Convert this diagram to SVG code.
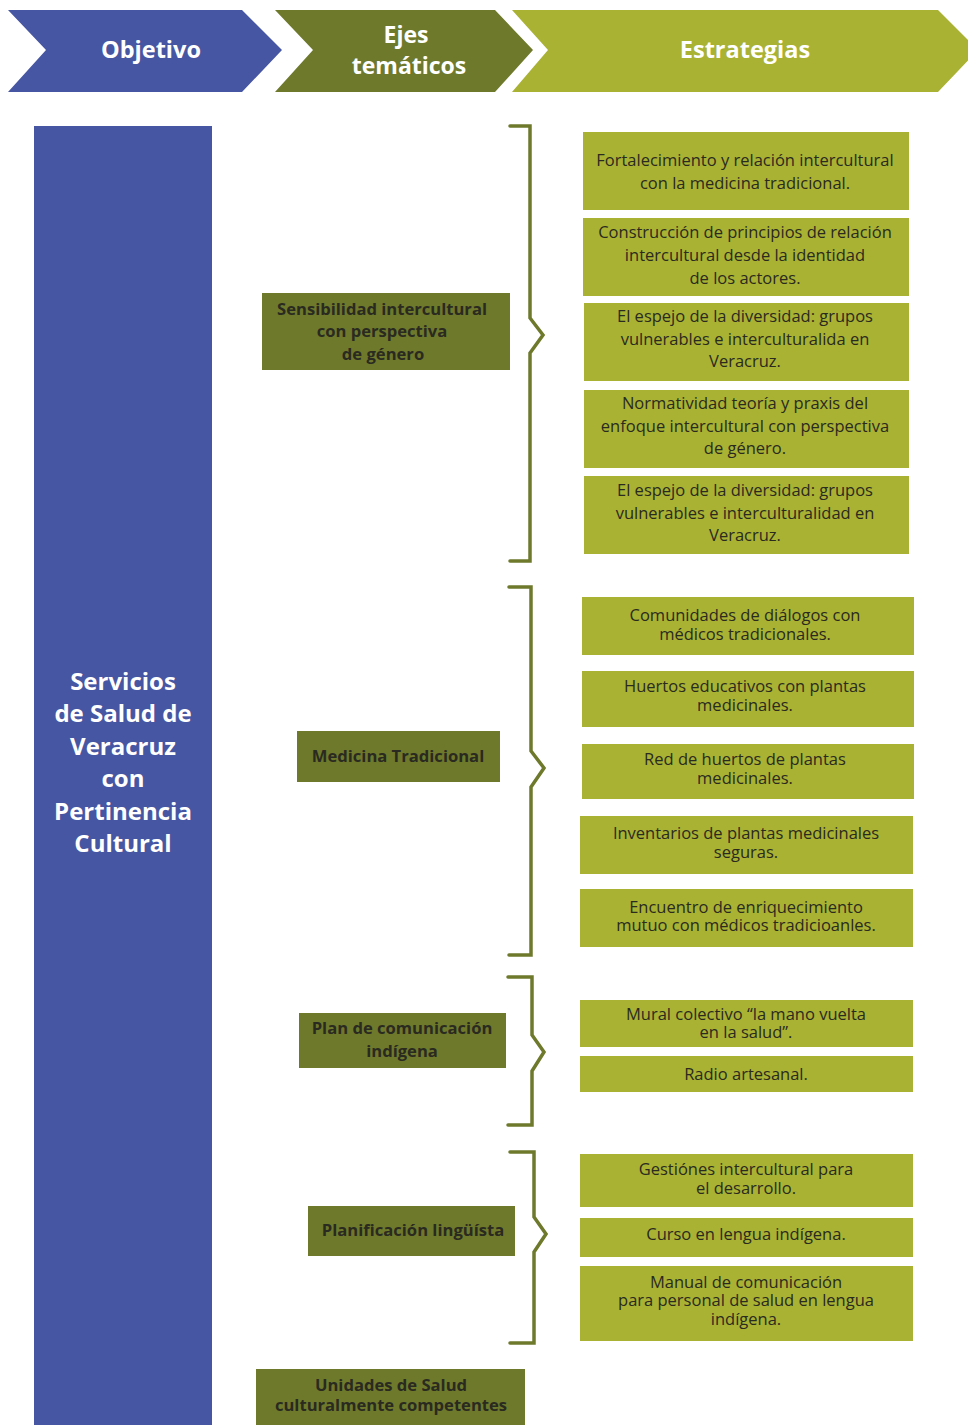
<svg xmlns="http://www.w3.org/2000/svg" width="968" height="1425" viewBox="0 0 968 1425">
<style>
.hdr{font-family:"Open Sans","Liberation Sans",sans-serif;font-weight:bold;fill:#ffffff;text-anchor:middle}
.obj{font-family:"Open Sans","Liberation Sans",sans-serif;font-weight:bold;fill:#ffffff;text-anchor:middle;font-size:24px}
.axis{fill:#6E792C}
.axt{font-family:"Open Sans","Liberation Sans",sans-serif;font-weight:bold;fill:#2a2a20;text-anchor:middle;font-size:16.6px}
.str{fill:#A9B233}
.stt{font-family:"Open Sans","Liberation Sans",sans-serif;fill:#2a2a20;text-anchor:middle;font-size:16.5px}
.brace{fill:none;stroke:#6E792C;stroke-width:3.5;stroke-linecap:round;stroke-linejoin:miter}
</style>
<rect width="968" height="1425" fill="#ffffff"/>
<g id="header">
<g id="h-objetivo"><polygon points="8,10 242,10 282,50 242,92 8,92 46,50" fill="#4656A2"/><text class="hdr" x="151" y="58" font-size="23.5">Objetivo</text></g>
<g id="h-ejes"><polygon points="275,10 495,10 533,50 495,92 275,92 313,50" fill="#6E792C"/><text class="hdr" x="406" y="43" font-size="23">Ejes</text><text class="hdr" x="409" y="74" font-size="23">temáticos</text></g>
<g id="h-estrategias"><polygon points="512,10 938,10 978,50 938,92 512,92 548,50" fill="#A9B233"/><text class="hdr" x="745" y="58" font-size="23.5">Estrategias</text></g>
</g>
<g id="objetivo"><rect x="34" y="126" width="178" height="1299" fill="#4656A2"/>
<text class="obj"><tspan x="123" y="690">Servicios</tspan><tspan x="123" y="722">de Salud de</tspan><tspan x="123" y="755">Veracruz</tspan><tspan x="123" y="787">con</tspan><tspan x="123" y="820">Pertinencia</tspan><tspan x="123" y="852">Cultural</tspan></text></g>
<g id="connectors">
<path class="brace" d="M510,126 H530 V318 L543,335 L530,353 V561 H510"/>
<path class="brace" d="M509,587 H531 V751 L544,768 L531,787 V955 H509"/>
<path class="brace" d="M508,977 H532 V1035 L544,1052 L532,1071 V1125 H508"/>
<path class="brace" d="M510,1152 H534 V1217 L546,1234 L534,1252 V1343 H510"/>
</g>
<g id="eje-sensibilidad"><rect class="axis" x="262" y="293" width="248" height="77"/><text class="axt"><tspan x="382" y="315">Sensibilidad intercultural</tspan><tspan x="382" y="337">con perspectiva</tspan><tspan x="383" y="360">de género</tspan></text></g>
<g id="eje-medicina"><rect class="axis" x="297" y="731" width="203" height="51"/><text class="axt" x="398" y="762">Medicina Tradicional</text></g>
<g id="eje-plan"><rect class="axis" x="299" y="1013" width="207" height="55"/><text class="axt"><tspan x="402" y="1034">Plan de comunicación</tspan><tspan x="402" y="1057">indígena</tspan></text></g>
<g id="eje-planificacion"><rect class="axis" x="308" y="1206" width="207" height="50"/><text class="axt" x="413" y="1236">Planificación lingüísta</text></g>
<g id="eje-unidades"><rect class="axis" x="256" y="1369" width="269" height="56"/><text class="axt"><tspan x="391" y="1391">Unidades de Salud</tspan><tspan x="391" y="1411">culturalmente competentes</tspan></text></g>
<g id="s1"><rect class="str" x="583" y="132" width="326" height="78"/><text class="stt"><tspan x="745" y="166">Fortalecimiento y relación intercultural</tspan><tspan x="745" y="189">con la medicina tradicional.</tspan></text></g>
<g id="s2"><rect class="str" x="583" y="218" width="326" height="78"/><text class="stt"><tspan x="745" y="238">Construcción de principios de relación</tspan><tspan x="745" y="261">intercultural desde la identidad</tspan><tspan x="745" y="284">de los actores.</tspan></text></g>
<g id="s3"><rect class="str" x="584" y="303" width="325" height="78"/><text class="stt"><tspan x="745" y="322">El espejo de la diversidad: grupos</tspan><tspan x="745" y="345">vulnerables e interculturalida en</tspan><tspan x="745" y="367">Veracruz.</tspan></text></g>
<g id="s4"><rect class="str" x="584" y="390" width="325" height="78"/><text class="stt"><tspan x="745" y="409">Normatividad teoría y praxis del</tspan><tspan x="745" y="432">enfoque intercultural con perspectiva</tspan><tspan x="745" y="454">de género.</tspan></text></g>
<g id="s5"><rect class="str" x="584" y="476" width="325" height="78"/><text class="stt"><tspan x="745" y="496">El espejo de la diversidad: grupos</tspan><tspan x="745" y="519">vulnerables e interculturalidad en</tspan><tspan x="745" y="541">Veracruz.</tspan></text></g>
<g id="m1"><rect class="str" x="582" y="597" width="332" height="58"/><text class="stt"><tspan x="745" y="621">Comunidades de diálogos con</tspan><tspan x="745" y="640">médicos tradicionales.</tspan></text></g>
<g id="m2"><rect class="str" x="582" y="671" width="332" height="56"/><text class="stt"><tspan x="745" y="692">Huertos educativos con plantas</tspan><tspan x="745" y="711">medicinales.</tspan></text></g>
<g id="m3"><rect class="str" x="582" y="744" width="332" height="55"/><text class="stt"><tspan x="745" y="765">Red de huertos de plantas</tspan><tspan x="745" y="784">medicinales.</tspan></text></g>
<g id="m4"><rect class="str" x="580" y="816" width="333" height="58"/><text class="stt"><tspan x="746" y="839">Inventarios de plantas medicinales</tspan><tspan x="746" y="858">seguras.</tspan></text></g>
<g id="m5"><rect class="str" x="580" y="889" width="333" height="58"/><text class="stt"><tspan x="746" y="913">Encuentro de enriquecimiento</tspan><tspan x="746" y="931">mutuo con médicos tradicioanles.</tspan></text></g>
<g id="p1"><rect class="str" x="580" y="1000" width="333" height="47"/><text class="stt"><tspan x="746" y="1020">Mural colectivo “la mano vuelta</tspan><tspan x="746" y="1038">en la salud”.</tspan></text></g>
<g id="p2"><rect class="str" x="580" y="1056" width="333" height="36"/><text class="stt" x="746" y="1080">Radio artesanal.</text></g>
<g id="l1"><rect class="str" x="580" y="1154" width="333" height="53"/><text class="stt"><tspan x="746" y="1175">Gestiónes intercultural para</tspan><tspan x="746" y="1194">el desarrollo.</tspan></text></g>
<g id="l2"><rect class="str" x="580" y="1218" width="333" height="39"/><text class="stt" x="746" y="1240">Curso en lengua indígena.</text></g>
<g id="l3"><rect class="str" x="580" y="1266" width="333" height="75"/><text class="stt"><tspan x="746" y="1288">Manual de comunicación</tspan><tspan x="746" y="1306">para personal de salud en lengua</tspan><tspan x="746" y="1325">indígena.</tspan></text></g>
</svg>
